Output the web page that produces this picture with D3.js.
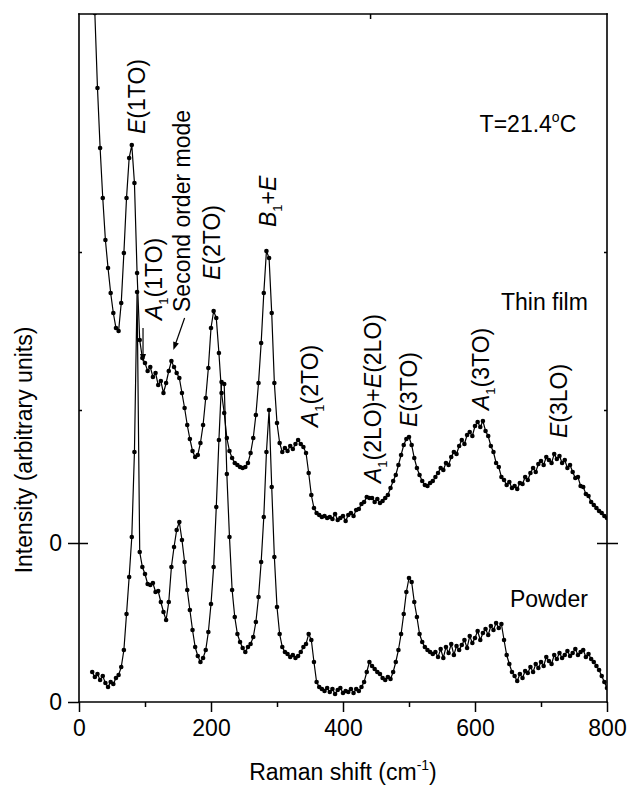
<!DOCTYPE html>
<html>
<head>
<meta charset="utf-8">
<script src="https://cdn.jsdelivr.net/npm/d3@7"></script>
<style>
  body { margin: 0; background: #fff; }
  text { font-family: Arial, 'Liberation Sans', sans-serif; fill: #000; }
</style>
</head>
<body>
<div id="chart"></div>
<script>
// Raman shift grid (cm-1)
const shift = [
  20, 24, 28, 32, 36, 40, 44, 48, 52, 56,
  60, 64, 68, 72, 76, 80, 84, 88, 92, 96,
  100, 104, 108, 112, 116, 120, 124, 128, 132, 136,
  140, 144, 148, 152, 156, 160, 164, 168, 172, 176,
  180, 184, 188, 192, 196, 200, 204, 208, 212, 216,
  220, 224, 228, 232, 236, 240, 244, 248, 252, 256,
  260, 264, 268, 272, 276, 280, 284, 288, 292, 296,
  300, 304, 308, 312, 316, 320, 324, 328, 332, 336,
  340, 344, 348, 352, 356, 360, 364, 368, 372, 376,
  380, 384, 388, 392, 396, 400, 404, 408, 412, 416,
  420, 424, 428, 432, 436, 440, 444, 448, 452, 456,
  460, 464, 468, 472, 476, 480, 484, 488, 492, 496,
  500, 504, 508, 512, 516, 520, 524, 528, 532, 536,
  540, 544, 548, 552, 556, 560, 564, 568, 572, 576,
  580, 584, 588, 592, 596, 600, 604, 608, 612, 616,
  620, 624, 628, 632, 636, 640, 644, 648, 652, 656,
  660, 664, 668, 672, 676, 680, 684, 688, 692, 696,
  700, 704, 708, 712, 716, 720, 724, 728, 732, 736,
  740, 744, 748, 752, 756, 760, 764, 768, 772, 776,
  780, 784, 788, 792, 796, 800
];

// powder spectrum (arbitrary units, own zero)
const powder = [
  30, 25, 28, 22, 26, 19, 15, 20, 18, 24,
  27, 35, 52, 88, 125, 165, 250, 410, 150, 135,
  128, 118, 117, 119, 110, 111, 100, 90, 82, 100,
  135, 155, 172, 180, 162, 140, 112, 92, 72, 55,
  46, 40, 44, 52, 70, 98, 135, 195, 262, 320,
  318, 228, 165, 112, 85, 68, 60, 54, 50, 55,
  58, 65, 80, 105, 140, 185, 250, 292, 215, 145,
  95, 68, 55, 50, 48, 45, 47, 44, 46, 50,
  55, 58, 68, 62, 40, 20, 15, 13, 11, 14,
  10, 13, 8, 12, 14, 9, 11, 10, 13, 9,
  13, 11, 15, 20, 30, 40, 36, 33, 30, 28,
  24, 22, 25, 23, 30, 40, 52, 68, 88, 110,
  124, 120, 100, 85, 68, 60, 55, 52, 50, 48,
  50, 45, 53, 44, 55, 49, 58, 47, 56, 52,
  57, 62, 54, 66, 59, 64, 71, 62, 69, 73,
  67, 76, 72, 79, 74, 78, 62, 47, 38, 30,
  26, 21, 28, 24, 31, 29, 35, 30, 38, 34,
  40, 36, 45, 41, 38, 47, 43, 49, 44, 47,
  51, 46, 49, 53, 47, 50, 52, 45, 48, 43,
  40, 36, 32, 26, 20, 14
];

// thin film spectrum (arbitrary units, own zero)
const thinFilm = [
  null, 530, 455, 395, 345, 303, 275, 250, 230, 215,
  212, 240, 290, 345, 385, 398, 360, 270, 203, 185,
  180, 172, 176, 166, 170, 158, 162, 150, 160, 172,
  182, 176, 170, 165, 150, 135, 118, 104, 92, 86,
  88, 100, 118, 145, 175, 215, 232, 225, 190, 150,
  130, 105, 92, 85, 80, 78, 76, 75, 76, 80,
  90, 105, 128, 160, 200, 250, 292, 285, 230, 160,
  120, 100, 91, 95, 92, 97, 94, 99, 103, 99,
  96, 90, 70, 48, 35, 30, 28, 26, 27, 25,
  26, 24, 29, 23, 25, 27, 22, 28, 30, 27,
  33, 34, 39, 41, 46, 45, 45, 41, 44, 40,
  42, 45, 48, 55, 62, 68, 78, 88, 98, 104,
  106, 98, 85, 75, 68, 62, 58, 57, 60, 62,
  66, 70, 75, 73, 80, 78, 86, 91, 89, 97,
  103, 99, 108, 111, 107, 117, 121, 116, 122, 112,
  107, 97, 91, 80, 76, 66, 63, 58, 61, 55,
  57, 54, 60, 59, 66, 63, 70, 75, 71, 79,
  82, 78, 86, 83, 80, 89, 84, 87, 80, 83,
  75, 78, 71, 65, 66, 57, 56, 49, 47, 41,
  38, 35, 32, 30, 27, 25
];

const filmOffset = 159;
const xTicks = [0, 200, 400, 600, 800];
const xMinorTicks = [100, 300, 500, 700];
const yZeroTicks = [0, filmOffset];
const yMinorTicks = [292, 450];
const xTopTicks = [441];

// peak labels: [segments, shift, intensity]
const peakLabels = [
  [[['E', 'i'], ['(1TO)']], 100, 568],
  [[['A', 'i'], ['1', 's'], ['(1TO)']], 126, 382],
  [[['Second order mode']], 168, 390],
  [[['E', 'i'], ['(2TO)']], 214, 422],
  [[['B', 'i'], ['1', 's'], ['+'], ['E', 'i']], 298, 475],
  [[['A', 'i'], ['1', 's'], ['(2TO)']], 362, 275],
  [[['A', 'i'], ['1', 's'], ['(2LO)+'], ['E', 'i'], ['(2LO)']], 458, 219],
  [[['E', 'i'], ['(3TO)']], 512, 275],
  [[['A', 'i'], ['1', 's'], ['(3TO)']], 621, 292],
  [[['E', 'i'], ['(3LO)']], 739, 264]
];
// arrows: [from shift, from intensity, to shift, to intensity]
const arrows = [
  [97, 374, 97, 340],
  [160, 384, 143, 352]
];

const WIDTH = 628;
const HEIGHT = 790;
const FONT = 23;

const x = d3.scaleLinear().domain([0, 800]).range([79, 607]);
const y = d3.scaleLinear().domain([0, 688]).range([702, 14]);

const svg = d3.select('#chart')
  .append('svg')
  .attr('width', WIDTH)
  .attr('height', HEIGHT);

svg.append('defs')
  .append('clipPath').attr('id', 'plot-clip')
  .append('rect')
  .attr('x', x(0)).attr('y', y(688))
  .attr('width', x(800) - x(0)).attr('height', y(0) - y(688));

// series
const series = [
  { values: powder, offset: 0 },
  { values: thinFilm, offset: filmOffset }
];
const line = d3.line()
  .defined((d) => d.v !== null)
  .x((d) => x(d.s))
  .y((d) => y(d.v));

const plot = svg.append('g').attr('clip-path', 'url(#plot-clip)');
series.forEach((sr) => {
  const pts = shift.map((s, i) => ({ s: s, v: sr.values[i] === null ? null : sr.values[i] + sr.offset }));
  plot.append('path')
    .datum(pts)
    .attr('fill', 'none')
    .attr('stroke', '#000')
    .attr('stroke-width', 1.2)
    .attr('d', line);
  plot.append('g')
    .selectAll('circle')
    .data(pts.filter((d) => d.v !== null))
    .enter()
    .append('circle')
    .attr('cx', (d) => x(d.s))
    .attr('cy', (d) => y(d.v))
    .attr('r', 2.3)
    .attr('fill', '#000');
});

// frame
const frame = svg.append('g')
  .attr('stroke', '#000')
  .attr('stroke-width', 1.6)
  .attr('stroke-linecap', 'square');
frame.append('line').attr('x1', x(0)).attr('x2', x(800)).attr('y1', y(688)).attr('y2', y(688));
frame.append('line').attr('x1', x(0)).attr('x2', x(800)).attr('y1', y(0)).attr('y2', y(0));
frame.append('line').attr('x1', x(0)).attr('x2', x(0)).attr('y1', y(0)).attr('y2', y(688));
frame.append('line').attr('x1', x(800)).attr('x2', x(800)).attr('y1', y(0)).attr('y2', y(688));

function styleAxis(g) {
  g.select('.domain').remove();
  g.selectAll('line').attr('stroke', '#000').attr('stroke-width', 1.5);
  g.selectAll('text').attr('font-size', FONT).attr('font-family', 'Arial, Liberation Sans, sans-serif').attr('fill', '#000');
}

svg.append('g')
  .attr('transform', `translate(0,${y(0)})`)
  .call(d3.axisBottom(x).tickValues(xTicks).tickSize(10).tickPadding(8).tickFormat(d3.format('d')))
  .call(styleAxis);
svg.append('g')
  .attr('transform', `translate(0,${y(0)})`)
  .call(d3.axisBottom(x).tickValues(xMinorTicks).tickSize(5).tickFormat(''))
  .call(styleAxis);
svg.append('g')
  .attr('transform', `translate(0,${y(688)})`)
  .call(d3.axisBottom(x).tickValues(xTopTicks).tickSize(5).tickFormat(''))
  .call(styleAxis);

// left axis: outward zero ticks plus inward tick for the offset zero
svg.append('g')
  .attr('transform', `translate(${x(0)},0)`)
  .call(d3.axisLeft(y).tickValues(yZeroTicks).tickSize(11).tickPadding(6).tickFormat(() => '0'))
  .call(styleAxis);
svg.append('g')
  .attr('transform', `translate(${x(0)},0)`)
  .call(d3.axisRight(y).tickValues([filmOffset]).tickSize(9).tickFormat(''))
  .call(styleAxis);
svg.append('g')
  .attr('transform', `translate(${x(0)},0)`)
  .call(d3.axisRight(y).tickValues(yMinorTicks).tickSize(3).tickFormat(''))
  .call(styleAxis);

// right axis
svg.append('g')
  .attr('transform', `translate(${x(800)},0)`)
  .call(d3.axisRight(y).tickValues([filmOffset]).tickSize(11).tickFormat(''))
  .call(styleAxis);
svg.append('g')
  .attr('transform', `translate(${x(800)},0)`)
  .call(d3.axisLeft(y).tickValues([filmOffset]).tickSize(10).tickFormat(''))
  .call(styleAxis);
svg.append('g')
  .attr('transform', `translate(${x(800)},0)`)
  .call(d3.axisLeft(y).tickValues(yMinorTicks).tickSize(3).tickFormat(''))
  .call(styleAxis);

// axis titles
const xTitle = svg.append('text')
  .attr('x', (x(0) + x(800)) / 2)
  .attr('y', 780)
  .attr('text-anchor', 'middle')
  .attr('font-size', FONT);
xTitle.append('tspan').text('Raman shift (cm');
xTitle.append('tspan').attr('font-size', 14).attr('dy', -10).text('-1');
xTitle.append('tspan').attr('dy', 10).text(')');

svg.append('text')
  .attr('transform', 'translate(32,450) rotate(-90)')
  .attr('text-anchor', 'middle')
  .attr('font-size', FONT)
  .text('Intensity (arbitrary units)');

// peak labels
function addRich(sel, segs) {
  let shifted = false;
  segs.forEach((sg) => {
    const t = sel.append('tspan').text(sg[0]);
    if (sg[1] === 'i') t.attr('font-style', 'italic');
    if (sg[1] === 's') {
      t.attr('font-size', 13).attr('dy', 6);
      shifted = true;
    } else if (shifted) {
      t.attr('dy', -6);
      shifted = false;
    }
  });
}

peakLabels.forEach((lb) => {
  const t = svg.append('text')
    .attr('transform', `translate(${x(lb[1])},${y(lb[2])}) rotate(-90)`)
    .attr('font-size', FONT);
  addRich(t, lb[0]);
});

// arrows
arrows.forEach((a) => {
  const x1 = x(a[0]), y1 = y(a[1]), x2 = x(a[2]), y2 = y(a[3]);
  const ang = Math.atan2(y2 - y1, x2 - x1);
  const hl = 8, hw = 3;
  svg.append('line')
    .attr('x1', x1).attr('y1', y1)
    .attr('x2', x2 - Math.cos(ang) * hl * 0.6).attr('y2', y2 - Math.sin(ang) * hl * 0.6)
    .attr('stroke', '#000').attr('stroke-width', 1.2);
  const bx = x2 - Math.cos(ang) * hl, by = y2 - Math.sin(ang) * hl;
  svg.append('path')
    .attr('d', `M${x2},${y2}L${bx - Math.sin(ang) * hw},${by + Math.cos(ang) * hw}L${bx + Math.sin(ang) * hw},${by - Math.cos(ang) * hw}Z`)
    .attr('fill', '#000');
});

// annotations
const temp = svg.append('text')
  .attr('x', x(607)).attr('y', y(570))
  .attr('font-size', FONT);
temp.append('tspan').text('T=21.4');
temp.append('tspan').attr('font-size', 14).attr('dy', -10).text('o');
temp.append('tspan').attr('dy', 10).text('C');

svg.append('text')
  .attr('x', x(771)).attr('y', y(392))
  .attr('text-anchor', 'end')
  .attr('font-size', FONT)
  .text('Thin film');

svg.append('text')
  .attr('x', x(771)).attr('y', y(95))
  .attr('text-anchor', 'end')
  .attr('font-size', FONT)
  .text('Powder');
</script>
</body>
</html>
